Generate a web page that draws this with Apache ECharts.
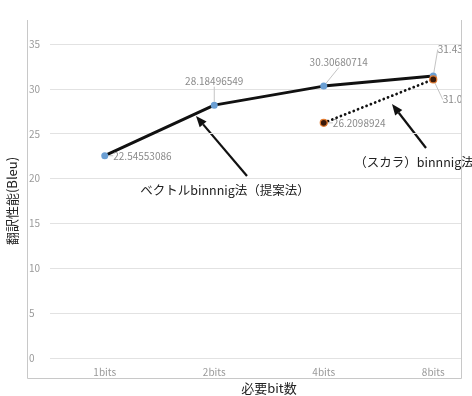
<!DOCTYPE html>
<html>
<head>
<meta charset="utf-8">
<script src="https://cdn.jsdelivr.net/npm/echarts@6/dist/echarts.min.js"></script>
<style>
  html, body { margin: 0; padding: 0; background: #fff; }
  #chart { width: 472px; height: 396px; }
</style>
</head>
<body>
<div id="chart"></div>
<script>
// Categories and Bleu scores for the two binning methods
const categories = ['1bits', '2bits', '4bits', '8bits'];
const vectorBleu = [22.54553086, 28.18496549, 30.30680714, 31.43];
const scalarBleu = [null, null, 26.2098924, 31.05];
const yTicks = { min: 0, max: 35, interval: 5 };

const FONT = '"Noto Sans CJK JP", "Noto Sans", sans-serif';
const labelGray = '#8a8a8a';

// Label placement for each point: side of the point and nudge of the text
const vectorLabelPos = ['right', 'top', 'top', 'top'];
const vectorLabelShift = [[0, 0], [0, -10], [15, -10], [17, -13]];
const scalarLabelPos = [null, null, 'right', 'bottom'];
const scalarLabelShift = [[0, 0], [0, 0], [0, 0], [22, 6]];

function buildData(values, positions) {
  return values.map((v, i) => v === null ? null : {
    value: v,
    label: { position: positions[i] }
  });
}

function arrow(x1, y1, x2, y2) {
  const ang = Math.atan2(y2 - y1, x2 - x1);
  const L = 11, W = 4.5;
  const bx = x2 - L * Math.cos(ang), by = y2 - L * Math.sin(ang);
  const px = -Math.sin(ang) * W, py = Math.cos(ang) * W;
  return {
    type: 'group', z: 120,
    children: [
      { type: 'line', shape: { x1: x1, y1: y1, x2: bx, y2: by },
        style: { stroke: '#111', lineWidth: 2.2 } },
      { type: 'polygon', shape: { points: [[x2, y2], [bx + px, by + py], [bx - px, by - py]] },
        style: { fill: '#111' } }
    ]
  };
}

const chart = echarts.init(document.getElementById('chart'));
chart.setOption({
  animation: false,
  backgroundColor: '#fff',
  grid: { left: 50, top: 44, right: -16, bottom: 38, containLabel: false, outerBoundsMode: 'none' },
  xAxis: {
    type: 'category',
    data: categories,
    boundaryGap: true,
    name: '必要bit数',
    nameLocation: 'middle',
    nameGap: 22,
    nameTextStyle: { color: '#222', fontSize: 13, fontFamily: FONT },
    axisLine: { show: false },
    axisTick: { show: false },
    axisLabel: { color: '#9a9a9a', fontSize: 10, margin: 9, fontFamily: FONT }
  },
  yAxis: {
    type: 'value',
    min: yTicks.min, max: yTicks.max, interval: yTicks.interval,
    name: '翻訳性能(Bleu)',
    nameLocation: 'middle',
    nameGap: 29,
    nameTextStyle: { color: '#222', fontSize: 13, fontFamily: FONT },
    axisLine: { show: false },
    axisTick: { show: false },
    axisLabel: { color: '#9a9a9a', fontSize: 10, align: 'left', margin: 21, fontFamily: FONT },
    splitLine: { lineStyle: { color: '#e2e2e2', width: 1 } }
  },
  series: [
    {
      name: 'vector',
      type: 'line',
      data: buildData(vectorBleu, vectorLabelPos),
      z: 3,
      lineStyle: { color: '#111', width: 3 },
      symbol: 'circle',
      symbolSize: 7,
      itemStyle: { color: '#6b9fd3', borderWidth: 0 },
      label: { show: true, color: labelGray, fontSize: 10, fontFamily: FONT,
               formatter: p => String(p.value), distance: 5 },
      labelLine: { show: true, lineStyle: { color: '#c4c4c4', width: 1 } },
      labelLayout: p => ({ dx: vectorLabelShift[p.dataIndex][0], dy: vectorLabelShift[p.dataIndex][1] })
    },
    {
      name: 'scalar',
      type: 'line',
      data: buildData(scalarBleu, scalarLabelPos),
      z: 4,
      connectNulls: false,
      lineStyle: { color: '#111', width: 2.8, type: [0.01, 4.6], cap: 'round' },
      symbol: 'circle',
      symbolSize: 7,
      itemStyle: { color: '#3a1a0a', borderColor: '#e07a30', borderWidth: 1.2 },
      label: { show: true, color: labelGray, fontSize: 10, fontFamily: FONT,
               formatter: p => String(p.value), distance: 5 },
      labelLine: { show: true, lineStyle: { color: '#c4c4c4', width: 1 } },
      labelLayout: p => ({ dx: scalarLabelShift[p.dataIndex][0], dy: scalarLabelShift[p.dataIndex][1] })
    }
  ],
  graphic: [
    // blank margin right of the frame
    { type: 'rect', z: 100, shape: { x: 462, y: 0, width: 20, height: 396 }, style: { fill: '#fff' } },
    // frame around the plot
    { type: 'polyline', z: 101,
      shape: { points: [[27.5, 20], [27.5, 378.5], [461.5, 378.5], [461.5, 20]] },
      style: { stroke: '#c8c8c8', lineWidth: 1, fill: null } },
    // callouts
    arrow(247, 176, 196, 116),
    arrow(426, 148, 392, 104),
    { type: 'text', z: 120, style: { text: 'ベクトルbinnnig法（提案法）', x: 225, y: 190,
      align: 'center', verticalAlign: 'middle', fill: '#222', fontSize: 12.5, fontFamily: FONT } },
    { type: 'text', z: 120, style: { text: '（スカラ）binnnig法', x: 414, y: 162,
      align: 'center', verticalAlign: 'middle', fill: '#222', fontSize: 12.5, fontFamily: FONT } }
  ]
});
</script>
</body>
</html>
